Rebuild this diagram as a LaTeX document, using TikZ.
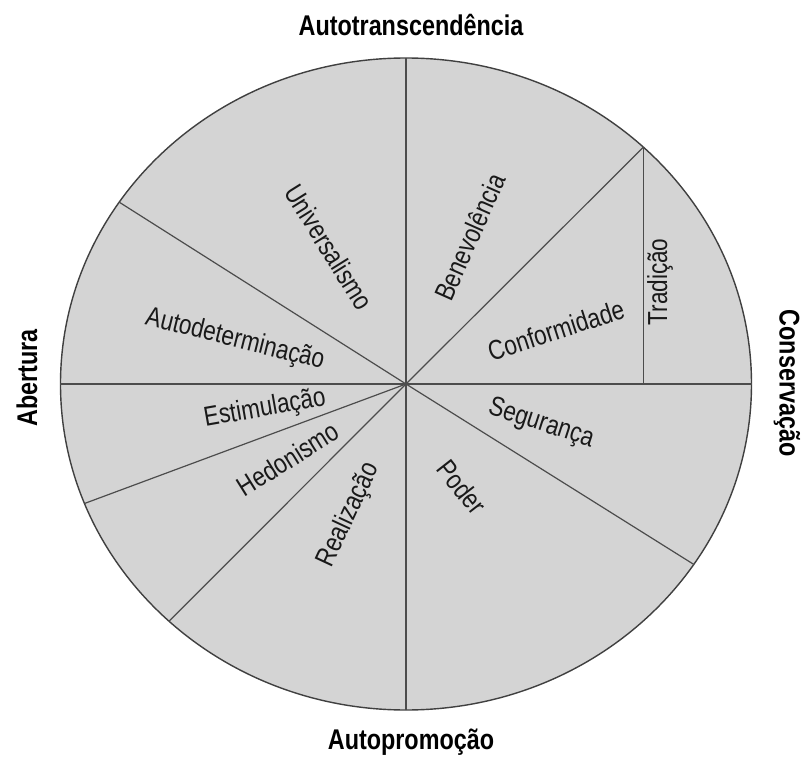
\documentclass[tikz,border=0pt]{standalone}
\usepackage{fontspec}
\setmainfont{Liberation Sans}[FakeStretch=0.82]
\begin{document}
\begin{tikzpicture}[
        x=1pt, y=1pt,
        wheel/.style={draw=black!75, line width=1.4pt, fill=black!17},
        divider/.style={draw=black!70, line width=1.2pt},
        value_label/.style={font=\fontsize{27.5}{29}\selectfont, text=black!90, inner sep=0pt},
        axis_label/.style={font=\fontsize{28.5}{30}\selectfont\bfseries, inner sep=0pt}
    ]
        \useasboundingbox (-406,-372) rectangle (395,384);

        % Circle and its centre
        \coordinate (centre) at (0,0);
        \draw[wheel] (centre) ellipse [x radius=345.5, y radius=326];

        % Points on the rim
        \coordinate (rim_top) at (90:345.5 and 326);
        \coordinate (rim_bottom) at (270:345.5 and 326);
        \coordinate (rim_left) at (180:345.5 and 326);
        \coordinate (rim_right) at (0:345.5 and 326);
        \coordinate (rim_up_right) at (46.6:345.5 and 326);
        \coordinate (rim_up_left) at (146.1:345.5 and 326);
        \coordinate (rim_low_left) at (201.5:345.5 and 326);
        \coordinate (rim_low_left_b) at (226.7:345.5 and 326);
        \coordinate (rim_low_right) at (326.4:345.5 and 326);
        \coordinate (tradition_foot) at (rim_up_right |- centre);

        % Sector lines
        \draw[divider] (rim_top) -- (rim_bottom);
        \draw[divider] (rim_left) -- (rim_right);
        \draw[divider] (centre) -- (rim_up_right);
        \draw[divider] (centre) -- (rim_up_left);
        \draw[divider] (centre) -- (rim_low_left);
        \draw[divider] (centre) -- (rim_low_left_b);
        \draw[divider] (centre) -- (rim_low_right);
        \draw[divider] (rim_up_right) -- (tradition_foot);

        % Values
        \node[value_label, rotate=-58] (universalismo) at (-77,137) {Universalismo};
        \node[value_label, rotate=66] (benevolencia) at (64,147) {Benevolência};
        \node[value_label, rotate=18] (conformidade) at (150,54) {Conformidade};
        \node[value_label, rotate=90] (tradicao) at (254,102) {Tradição};
        \node[value_label, rotate=-18] (seguranca) at (135,-40) {Segurança};
        \node[value_label, rotate=-52] (poder) at (56,-103) {Poder};
        \node[value_label, rotate=65] (realizacao) at (-57,-131) {Realização};
        \node[value_label, rotate=32] (hedonismo) at (-118,-75) {Hedonismo};
        \node[value_label, rotate=10] (estimulacao) at (-141,-25) {Estimulação};
        \node[value_label, rotate=-14] (autodeterminacao) at (-171,44) {Autodeterminação};

        % Higher order dimensions
        \node[axis_label] (autotranscendencia) at (5,359) {Autotranscendência};
        \node[axis_label] (autopromocao) at (5,-358) {Autopromoção};
        \node[axis_label, rotate=90] (abertura) at (-379,6) {Abertura};
        \node[axis_label, rotate=-90] (conservacao) at (381,1) {Conservação};

    \end{tikzpicture}
\end{document}
